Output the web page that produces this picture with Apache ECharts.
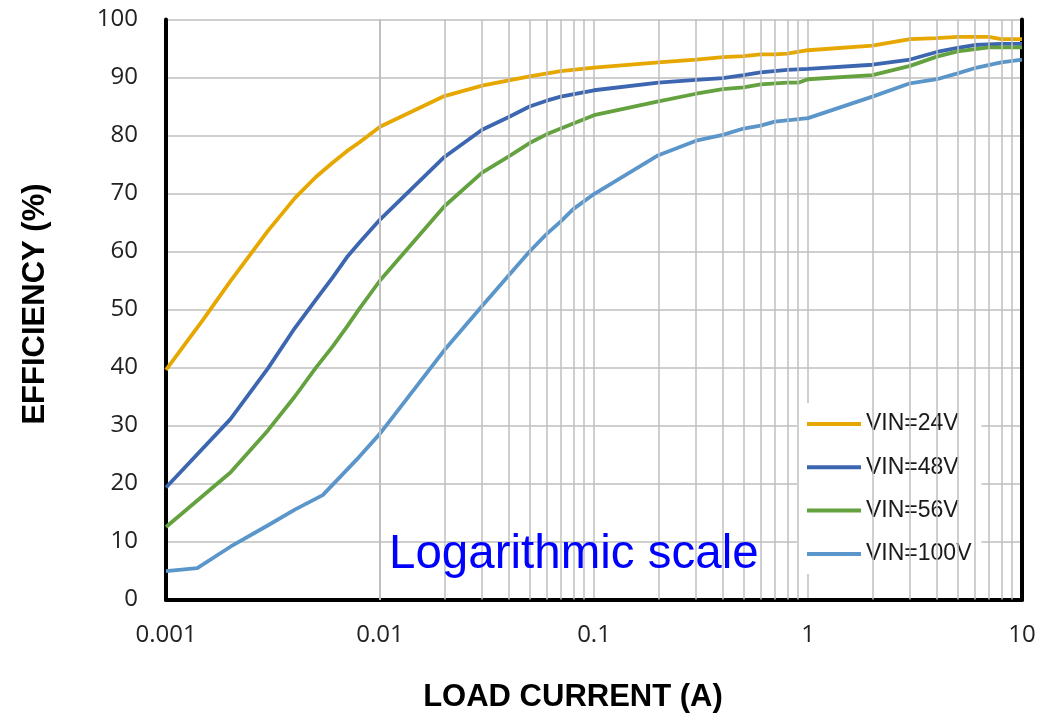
<!DOCTYPE html>
<html>
<head>
<meta charset="utf-8">
<title>Efficiency vs Load Current</title>
<script src="https://cdn.jsdelivr.net/npm/echarts@6/dist/echarts.min.js"></script>
<style>
  html, body { margin: 0; padding: 0; background: #fff; }
  #chart { width: 1063px; height: 716px; }
</style>
</head>
<body>
<div id="chart"></div>
<script>
// Load current (A) and efficiency (%) for each input voltage
const current24 = [0.001, 0.0015, 0.002, 0.003, 0.004, 0.005, 0.006, 0.007, 0.008, 0.01, 0.02, 0.03, 0.04, 0.05, 0.07, 0.1, 0.2, 0.3, 0.4, 0.5, 0.6, 0.7, 0.8, 1, 2, 3, 4, 5, 6, 7, 8, 10];
const eff24     = [39.6, 48.4, 54.9, 63.6, 69.2, 72.8, 75.3, 77.3, 78.8, 81.5, 86.8, 88.6, 89.5, 90.2, 91.1, 91.7, 92.6, 93.1, 93.5, 93.7, 94.0, 94.0, 94.1, 94.7, 95.5, 96.6, 96.8, 97.0, 97.0, 97.0, 96.6, 96.6];

const current48 = [0.001, 0.002, 0.003, 0.004, 0.005, 0.006, 0.007, 0.008, 0.01, 0.02, 0.03, 0.04, 0.05, 0.06, 0.07, 0.1, 0.2, 0.3, 0.4, 0.5, 0.6, 0.8, 1, 2, 3, 4, 5, 6, 8, 10];
const eff48     = [19.3, 31.1, 39.9, 46.8, 51.6, 55.5, 59.0, 61.5, 65.5, 76.3, 81.0, 83.2, 85.0, 86.0, 86.7, 87.8, 89.1, 89.6, 89.9, 90.4, 90.9, 91.3, 91.5, 92.2, 93.1, 94.4, 95.1, 95.6, 95.8, 95.8];

const current56 = [0.001, 0.002, 0.003, 0.004, 0.005, 0.006, 0.007, 0.008, 0.01, 0.02, 0.03, 0.04, 0.05, 0.06, 0.07, 0.1, 0.2, 0.3, 0.4, 0.5, 0.6, 0.8, 0.9, 1, 2, 3, 4, 5, 7, 10];
const eff56     = [12.5, 21.9, 29.2, 35.0, 39.9, 43.6, 47.0, 50.1, 55.0, 67.8, 73.6, 76.4, 78.7, 80.2, 81.2, 83.5, 85.9, 87.2, 88.0, 88.3, 88.8, 89.1, 89.1, 89.7, 90.4, 92.0, 93.6, 94.5, 95.2, 95.2];

const current100 = [0.001, 0.0014, 0.002, 0.003, 0.004, 0.0054, 0.008, 0.01, 0.02, 0.03, 0.04, 0.05, 0.06, 0.07, 0.08, 0.1, 0.2, 0.3, 0.4, 0.5, 0.6, 0.7, 1, 2, 3, 4, 5, 6, 8, 10];
const eff100     = [4.9, 5.4, 9.1, 12.8, 15.5, 18.0, 24.6, 28.6, 43.0, 50.6, 55.9, 60.0, 63.0, 65.2, 67.3, 69.9, 76.6, 79.1, 80.1, 81.2, 81.7, 82.4, 83.0, 86.7, 89.0, 89.7, 90.7, 91.6, 92.6, 93.1];

const seriesNames  = ['VIN=24V', 'VIN=48V', 'VIN=56V', 'VIN=100V'];
const seriesColors = ['#E6A700', '#3D66B0', '#64A23F', '#5B96CB'];

// Decade range of the current axis and the 2..9 sub-divisions for the minor grid
const decades = [0.001, 0.01, 0.1, 1];
const subSteps = [2, 3, 4, 5, 6, 7, 8, 9];
const minorGrid = [];
decades.forEach(d => subSteps.forEach(s => minorGrid.push(+(d * s).toPrecision(3))));

const gridColor = '#bfbfbf';
const frameLine = { show: true, lineStyle: { color: '#000000', width: 4 } };

function pairs(xs, ys) { return xs.map((x, i) => [x, ys[i]]); }

const dataSets = [
  pairs(current24, eff24),
  pairs(current48, eff48),
  pairs(current56, eff56),
  pairs(current100, eff100)
];

const lineSeries = dataSets.map((d, i) => ({
  name: seriesNames[i],
  type: 'line',
  data: d,
  symbol: 'none',
  smooth: false,
  z: 3,
  lineStyle: { color: seriesColors[i], width: 3.8 },
  itemStyle: { color: seriesColors[i] }
}));

// Minor log-grid lines drawn behind the curves
const minorGridSeries = {
  name: 'minor-grid',
  type: 'line',
  data: [],
  z: 1,
  silent: true,
  markLine: {
    silent: true,
    symbol: ['none', 'none'],
    label: { show: false },
    lineStyle: { color: gridColor, width: 1.5, type: 'solid' },
    emphasis: { disabled: true },
    data: minorGrid.map(v => ({ xAxis: v }))
  }
};

const chart = echarts.init(document.getElementById('chart'), null, { renderer: 'canvas' });

const tickFont = { fontFamily: 'Open Sans', fontSize: 24, color: '#222222' };

chart.setOption({
  animation: false,
  backgroundColor: '#ffffff',
  grid: {
    left: 166, right: 41, top: 19.5, bottom: 116.5,
    show: false
  },
  xAxis: [
    {
      type: 'log',
      logBase: 10,
      min: 0.001,
      max: 10,
      position: 'bottom',
      axisLine: frameLine,
      axisTick: { show: false },
      splitLine: { show: true, lineStyle: { color: gridColor, width: 1.5 } },
      axisLabel: Object.assign({
        margin: 24,
        formatter: v => String(+(+v).toPrecision(3))
      }, tickFont)
    },
    {
      type: 'log',
      logBase: 10,
      min: 0.001,
      max: 10,
      position: 'top',
      axisLine: frameLine,
      axisTick: { show: false },
      splitLine: { show: false },
      axisLabel: { show: false }
    }
  ],
  yAxis: [
    {
      type: 'value',
      min: 0,
      max: 100,
      interval: 10,
      position: 'left',
      axisLine: frameLine,
      axisTick: { show: false },
      splitLine: { show: true, lineStyle: { color: gridColor, width: 1.5 } },
      axisLabel: Object.assign({ margin: 28 }, tickFont)
    },
    {
      type: 'value',
      min: 0,
      max: 100,
      interval: 10,
      position: 'right',
      axisLine: frameLine,
      axisTick: { show: false },
      splitLine: { show: false },
      axisLabel: { show: false }
    }
  ],
  legend: {
    data: seriesNames.map(n => ({ name: n, icon: 'rect' })),
    orient: 'vertical',
    left: 797,
    top: 403,
    padding: [9, 10, 8, 10],
    backgroundColor: '#ffffff',
    itemWidth: 54,
    itemHeight: 4,
    itemGap: 19.3,
    itemTextGap: 5,
    selectedMode: false,
    textStyle: {
      fontFamily: 'Liberation Sans',
      fontSize: 23,
      lineHeight: 24,
      color: '#1a1a1a'
    }
  },
  graphic: [
    {
      type: 'text',
      x: 35,
      y: 304,
      rotation: Math.PI / 2,
      style: {
        text: 'EFFICIENCY (%)',
        fontFamily: 'Liberation Sans',
        fontWeight: 'bold',
        fontSize: 31,
        fill: '#000000',
        textAlign: 'center',
        textVerticalAlign: 'middle'
      }
    },
    {
      type: 'text',
      x: 573,
      y: 697,
      style: {
        text: 'LOAD CURRENT (A)',
        fontFamily: 'Liberation Sans',
        fontWeight: 'bold',
        fontSize: 31,
        fill: '#000000',
        textAlign: 'center',
        textVerticalAlign: 'middle'
      }
    },
    {
      type: 'text',
      x: 389,
      y: 555,
      z: 10,
      style: {
        text: 'Logarithmic scale',
        fontFamily: 'Liberation Sans',
        fontSize: 47.5,
        fill: '#0000FF',
        textAlign: 'left',
        textVerticalAlign: 'middle'
      }
    }
  ],
  series: [minorGridSeries].concat(lineSeries)
});
</script>
</body>
</html>
